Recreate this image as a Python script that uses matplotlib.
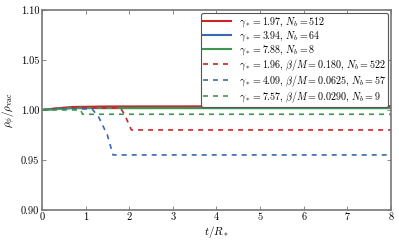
import matplotlib
matplotlib.use("Agg")
import matplotlib.pyplot as plt

plt.rcParams['font.family'] = 'serif'
plt.rcParams['font.serif'] = ['cmr10', 'DejaVu Serif']
plt.rcParams['mathtext.fontset'] = 'cm'
plt.rcParams['axes.unicode_minus'] = False

# Solid curves (t, rho/rho_vac)
t_solid = [0.0, 0.3, 0.7, 1.5, 8.0]
red_solid = [1.000, 1.0015, 1.003, 1.0035, 1.0038]
blue_solid = [1.000, 1.001, 1.002, 1.002, 1.002]
green_solid = [1.000, 1.001, 1.0018, 1.0018, 1.0018]

# Dashed curves
t_red_dash = [0.0, 0.5, 1.8, 1.9, 2.05, 8.0]
red_dash = [1.000, 1.002, 1.002, 0.995, 0.980, 0.980]
t_blue_dash = [0.0, 0.5, 1.15, 1.3, 1.5, 1.63, 8.0]
blue_dash = [1.000, 1.001, 1.001, 0.993, 0.975, 0.955, 0.955]
t_green_dash = [0.0, 0.89, 0.93, 8.0]
green_dash = [1.000, 1.000, 0.9957, 0.9957]

labels = [
    r"$\gamma_* = 1.97$, $N_b = 512$",
    r"$\gamma_* = 3.94$, $N_b = 64$",
    r"$\gamma_* = 7.88$, $N_b = 8$",
    r"$\gamma_* = 1.96$, $\beta/M = 0.180$, $N_b = 522$",
    r"$\gamma_* = 4.09$, $\beta/M = 0.0625$, $N_b = 57$",
    r"$\gamma_* = 7.57$, $\beta/M = 0.0290$, $N_b = 9$",
]
red, blue, green = "#CC2529", "#396AB1", "#3E9651"

fig = plt.figure(figsize=(3.99, 2.43), dpi=100)
ax = fig.add_axes([0.105, 0.136, 0.875, 0.823])

ax.plot(t_solid, red_solid, color=red, lw=1.5, label=labels[0])
ax.plot(t_solid, blue_solid, color=blue, lw=1.5, label=labels[1])
ax.plot(t_solid, green_solid, color=green, lw=1.5, label=labels[2])
ax.plot(t_red_dash, red_dash, color=red, lw=1.2, ls=(0, (3, 3)), label=labels[3])
ax.plot(t_blue_dash, blue_dash, color=blue, lw=1.2, ls=(0, (3, 3)), label=labels[4])
ax.plot(t_green_dash, green_dash, color=green, lw=1.2, ls=(0, (3, 3)), label=labels[5])

ax.set_xlim(0, 8)
ax.set_ylim(0.90, 1.10)
ax.set_xticks(range(0, 9))
ax.set_yticks([0.90, 0.95, 1.00, 1.05, 1.10])
ax.set_yticklabels(["0.90", "0.95", "1.00", "1.05", "1.10"])
ax.set_xlabel(r"$t/R_*$", fontsize=8, labelpad=1)
ax.set_ylabel(r"$\rho_\phi/\rho_{\rm vac}$", fontsize=8, labelpad=2)

for s in ax.spines.values():
    s.set_color("#777777")
    s.set_linewidth(1.2)
ax.tick_params(direction="in", top=True, right=True, length=3, width=0.6,
               color="#777777", labelsize=7.5, pad=2)

leg = ax.legend(loc="upper right", fontsize=7.2, frameon=True, fancybox=True,
                handlelength=2.8, handletextpad=0.8, borderaxespad=0.35,
                labelspacing=0.0, borderpad=0.2)
leg.get_frame().set_edgecolor("#555555")
leg.get_frame().set_linewidth(0.8)
leg.get_frame().set_alpha(1.0)

fig.savefig("out.png", dpi=100)
